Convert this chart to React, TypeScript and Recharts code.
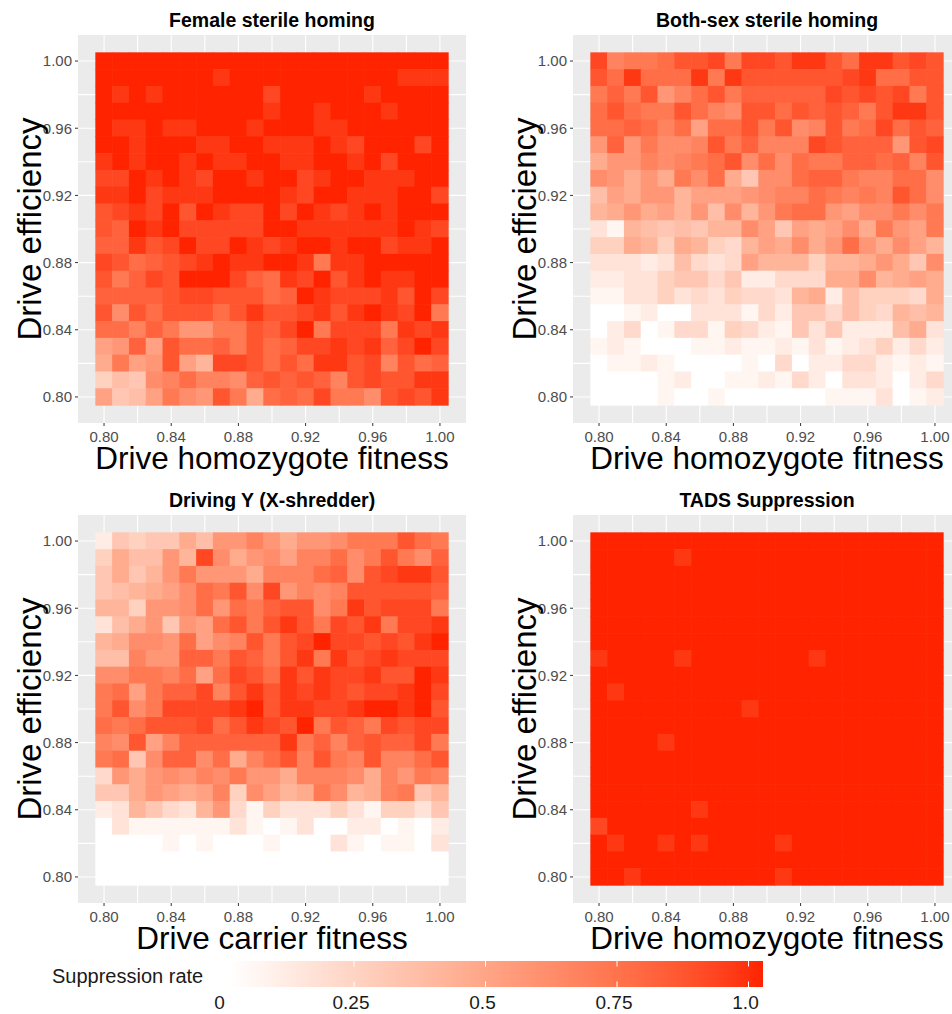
import React from 'react';
import { ScatterChart, Scatter, XAxis, YAxis, CartesianGrid } from 'recharts';

// suppression rate per tile, one char per cell: index in LEVELS / 20
// rows run from drive efficiency 1.00 (top) down to 0.80, columns from fitness 0.80 to 1.00
const LEVELS = '0123456789ABCDEFGHIJK';

const fitnessLevels = [
  0.8, 0.81, 0.82, 0.83, 0.84, 0.85, 0.86, 0.87, 0.88, 0.89, 0.9,
  0.91, 0.92, 0.93, 0.94, 0.95, 0.96, 0.97, 0.98, 0.99, 1.0
];
const efficiencyLevels = [
  1.0, 0.99, 0.98, 0.97, 0.96, 0.95, 0.94, 0.93, 0.92, 0.91, 0.9,
  0.89, 0.88, 0.87, 0.86, 0.85, 0.84, 0.83, 0.82, 0.81, 0.8
];
const axisTicks = [0.8, 0.84, 0.88, 0.92, 0.96, 1.0];
const gridLines = [0.8, 0.82, 0.84, 0.86, 0.88, 0.9, 0.92, 0.94, 0.96, 0.98, 1.0];
const legendTicks = [0, 0.25, 0.5, 0.75, 1.0];
const legendLabels = ['0', '0.25', '0.5', '0.75', '1.0'];

const femaleSterileRows = [
  'KKKKKKKKKKKKKKKKKKKKK',
  'KKKKKKKJKKKKKKKKKKJJJ',
  'KJKJKKKKKKIKKKKKJKKKK',
  'KKKKKKKKKKJKKJKKKJKKK',
  'KJJKJJKKKJKKKJJKKKKKK',
  'KKJKKKJJKKJJJKJIKKKIK',
  'JKJKKJKJJKKJJKKJKIKKK',
  'IIKJKJIKKJKKIJKKJJJKK',
  'JJKIJJJKKKKJIKKJJJKKI',
  'HIJIKHKJIIKIKJIJKJKKK',
  'HGKJKIIIIIKKJJJJJJKJI',
  'GGJHIKIIKJIJKKJKKIJJK',
  'IHFGHIJKJJKKJEJJKKKKK',
  'HEGIHKKKIGFJIKHJKJJKK',
  'GGGGHIIHHHFGKJIIIJHKI',
  'HCHFHHHFHJHHIJHJKJIKE',
  'FFDGEBBEEHGIKEIIIEJIJ',
  'ABGAHFFGEHFGIIJIJGIKI',
  '9EABHA8IIHFHFJJHIDHFG',
  '576CDFDDCGHGHGDHIHHJJ',
  'A67AECBHE9FGFIEECHIHJ'
];

const bothSexRows = [
  'IDEEFHHIEIIHJJHFJJHIH',
  'HFJFFFJEJHHHHHHIJFFHH',
  'EGEHBDFHEGGGGGIHIHIEH',
  'FHFEEHFDCHHFHGHGEHJJH',
  'FFGFDFAFFHEHCDHEFIFHG',
  'BGBECCDHEGDDDIHGGGBHI',
  '9BBDCDEFHCFCFEEGGFGDH',
  'CB9B9ECF96CCFGGEDDFFC',
  '7A9BB8AAABCDDFEDEDHFC',
  '89B9A8B7C8BEFFBACCECE',
  '318767688CA6A9AC9EBAE',
  '5598598548A9C9BFB9CA8',
  '333237434A8885889B96C',
  '2233566462244499C89A9',
  '113353435443892755549',
  '001200333142664754878',
  '024014415421636222793',
  '121000112112131235242',
  '011210000104022442121',
  '000012001121420332024',
  '000010010000001113012'
];

const xShredderRows = [
  '2656697BBDB9BBCEEEHFE',
  '5977B8IC9BCADDFCEHECG',
  '6968BEBBB9DDDFGCHIJJH',
  '6789ACFEHCIBDCDHHHHHG',
  '885BBCFBFEGHHCEJHIIIE',
  '379B6BAFHEHJHEIHJEIIJ',
  '89CCBFACDHEHIKIIHIHJK',
  '77DBBGGEHGEHJEJHIJIII',
  'CCEEDFAFIHFJHJIIJHHKJ',
  'EFAEGGIDHJHJIJIHIIJKI',
  'EHCEIIIIJKHJJIIJKKJKH',
  'FEFHHHIFHJIHKEHGEIHII',
  'DCHADGGGGGGJEGDGHGGIE',
  'EF6CGGCF9DFHDHEDHDDFH',
  '4B9BCBDCEBB9DDDC9DBED',
  '669BA9AD5CA89EC89DE68',
  '2386438B4153335315536',
  '031111113101300220102',
  '000010100010003101103',
  '000000000000000000000',
  '000000000000000000000'
];

const tadsRows = [
  'KKKKKKKKKKKKKKKKKKKKK',
  'KKKKKJKKKKKKKKKKKKKKK',
  'KKKKKKKKKKKKKKKKKKKKK',
  'KKKKKKKKKKKKKKKKKKKKK',
  'KKKKKKKKKKKKKKKKKKKKK',
  'KKKKKKKKKKKKKKKKKKKKK',
  'KKKKKKKKKKKKKKKKKKKKK',
  'JKKKKJKKKKKKKJKKKKKKK',
  'KKKKKKKKKKKKKKKKKKKKK',
  'KJKKKKKKKKKKKKKKKKKKK',
  'KKKKKKKKKJKKKKKKKKKKK',
  'KKKKKKKKKKKKKKKKKKKKK',
  'KKKKJKKKKKKKKKKKKKKKK',
  'KKKKKKKKKKKKKKKKKKKKK',
  'KKKKKKKKKKKKKKKKKKKKK',
  'KKKKKKKKKKKKKKKKKKKKK',
  'KKKKKKJKKKKKKKKKKKKKK',
  'IKKKKKKKKKKKKKKKKKKKK',
  'KJKKJKJKKKKJKKKKKKKKK',
  'KKKKKKKKKKKKKKKKKKKKK',
  'KKJKKKKKKKKJKKKKKKKKK'
];

// white -> red, blended in Lab like ggplot's gradient
const HIGH = [255, 35, 0];
const toLin = (c: number) => {
  const v = c / 255;
  return v <= 0.04045 ? v / 12.92 : Math.pow((v + 0.055) / 1.055, 2.4);
};
const fromLin = (c: number) => {
  const v = c <= 0.0031308 ? 12.92 * c : 1.055 * Math.pow(c, 1 / 2.4) - 0.055;
  return Math.round(Math.max(0, Math.min(1, v)) * 255);
};
const fLab = (t: number) => (t > 0.008856 ? Math.cbrt(t) : 7.787 * t + 16 / 116);
const fInv = (t: number) => (t * t * t > 0.008856 ? t * t * t : (t - 16 / 116) / 7.787);

function rgbToLab([r, g, b]: number[]) {
  const R = toLin(r), G = toLin(g), B = toLin(b);
  const X = (0.4124 * R + 0.3576 * G + 0.1805 * B) / 0.95047;
  const Y = 0.2126 * R + 0.7152 * G + 0.0722 * B;
  const Z = (0.0193 * R + 0.1192 * G + 0.9505 * B) / 1.08883;
  const fx = fLab(X), fy = fLab(Y), fz = fLab(Z);
  return [116 * fy - 16, 500 * (fx - fy), 200 * (fy - fz)];
}

const HIGH_LAB = rgbToLab(HIGH);

function rateColor(v: number) {
  const t = Math.max(0, Math.min(1, v));
  const L = 100 + (HIGH_LAB[0] - 100) * t;
  const a = HIGH_LAB[1] * t;
  const b = HIGH_LAB[2] * t;
  const fy = (L + 16) / 116;
  const X = 0.95047 * fInv(fy + a / 500);
  const Y = fInv(fy);
  const Z = 1.08883 * fInv(fy - b / 200);
  const r = fromLin(3.2406 * X - 1.5372 * Y - 0.4986 * Z);
  const g = fromLin(-0.9689 * X + 1.8758 * Y + 0.0415 * Z);
  const bl = fromLin(0.0557 * X - 0.204 * Y + 1.057 * Z);
  return `rgb(${r},${g},${bl})`;
}

function toCells(rows: string[]) {
  return rows.flatMap((row, r) =>
    fitnessLevels.map((x, c) => {
      const idx = LEVELS.indexOf(row[c] ?? '0');
      return { x, y: efficiencyLevels[r], v: Math.max(0, idx) / 20 };
    })
  );
}

const W = 476;
const H = 490;
const M = { top: 35, right: 10, bottom: 0, left: 0 };
const Y_AXIS_W = 78;
const X_AXIS_H = 67;
const DOMAIN: [number, number] = [0.7845, 1.0155];
const PLOT = W - M.right - Y_AXIS_W; // 388
const CELL = (PLOT / (DOMAIN[1] - DOMAIN[0])) * 0.01;
const FONT = '"Liberation Sans", Arial, Helvetica, sans-serif';

const Tile = (props: any) => {
  const { cx, cy, payload } = props;
  if (cx == null || cy == null) return null;
  return (
    <rect
      x={cx - CELL / 2 - 0.3}
      y={cy - CELL / 2 - 0.3}
      width={CELL + 0.6}
      height={CELL + 0.6}
      fill={rateColor(payload.v)}
    />
  );
};

const tickStyle = { fontSize: 15, fill: '#4D4D4D', fontFamily: FONT };

function HeatPanel({
  title,
  xLabel,
  rows,
  left,
  top
}: {
  title: string;
  xLabel: string;
  rows: string[];
  left: number;
  top: number;
}) {
  const cells = toCells(rows);
  const centerX = Y_AXIS_W + PLOT / 2;
  const centerY = M.top + PLOT / 2;
  return (
    <div style={{ position: 'absolute', left, top, width: W, height: H }}>
      <ScatterChart width={W} height={H} margin={M}>
        <CartesianGrid
          fill="#EBEBEB"
          stroke="#FFFFFF"
          strokeWidth={1.1}
          verticalValues={gridLines}
          horizontalValues={gridLines}
        />
        <XAxis
          type="number"
          dataKey="x"
          domain={DOMAIN}
          allowDataOverflow
          ticks={axisTicks}
          interval={0}
          tickFormatter={(v: number) => v.toFixed(2)}
          height={X_AXIS_H}
          axisLine={false}
          tickSize={3}
          tickMargin={5}
          tickLine={{ stroke: '#333333' }}
          tick={tickStyle}
        />
        <YAxis
          type="number"
          dataKey="y"
          domain={DOMAIN}
          allowDataOverflow
          ticks={axisTicks}
          interval={0}
          tickFormatter={(v: number) => v.toFixed(2)}
          width={Y_AXIS_W}
          axisLine={false}
          tickSize={3}
          tickMargin={3}
          tickLine={{ stroke: '#333333' }}
          tick={tickStyle}
        />
        <Scatter data={cells} shape={Tile} isAnimationActive={false} />
      </ScatterChart>
      <svg
        width={W}
        height={H}
        style={{ position: 'absolute', left: 0, top: 0, pointerEvents: 'none' }}
      >
        <text x={centerX} y={27} textAnchor="middle" fontSize={19.5} fontWeight="bold" fill="#000" fontFamily={FONT}>
          {title}
        </text>
        <text x={centerX} y={469} textAnchor="middle" fontSize={31.5} fill="#000" fontFamily={FONT}>
          {xLabel}
        </text>
        <text
          x={41}
          y={centerY}
          transform={`rotate(-90 41 ${centerY})`}
          textAnchor="middle"
          fontSize={33}
          fill="#000"
          fontFamily={FONT}
        >
          Drive efficiency
        </text>
      </svg>
    </div>
  );
}

function RateLegend() {
  const barX0 = 230;
  const barX1 = 763;
  const barY = 961;
  const barH = 26;
  const zeroX = 222.5;
  const unit = 526;
  const stops = Array.from({ length: 21 }, (_, i) => i / 20);
  return (
    <svg width={952} height={1014} style={{ position: 'absolute', left: 0, top: 0, pointerEvents: 'none' }}>
      <defs>
        <linearGradient id="rateGrad" x1="0" x2="1" y1="0" y2="0">
          {stops.map((s) => (
            <stop key={s} offset={s} stopColor={rateColor(s)} />
          ))}
        </linearGradient>
      </defs>
      <text x={52} y={983} fontSize={20} fill="#1A1A1A" fontFamily={FONT}>
        Suppression rate
      </text>
      <rect x={barX0} y={barY} width={barX1 - barX0} height={barH} fill="url(#rateGrad)" />
      {legendTicks.map((t) => {
        const x = zeroX + unit * t;
        if (x < barX0) return null;
        return (
          <g key={t}>
            <line x1={x} x2={x} y1={barY} y2={barY + 5.5} stroke="#FFFFFF" strokeWidth={1} />
            <line x1={x} x2={x} y1={barY + barH - 5.5} y2={barY + barH} stroke="#FFFFFF" strokeWidth={1} />
          </g>
        );
      })}
      {legendTicks.map((t, i) => (
        <text key={t} x={zeroX - 3 + unit * t} y={1009} textAnchor="middle" fontSize={19} fill="#1A1A1A" fontFamily={FONT}>
          {legendLabels[i]}
        </text>
      ))}
    </svg>
  );
}

export default function App() {
  return (
    <div
      style={{
        position: 'absolute',
        left: 0,
        top: 0,
        width: 952,
        height: 1014,
        overflow: 'hidden',
        background: '#FFFFFF',
        fontFamily: FONT
      }}
    >
      <HeatPanel title="Female sterile homing" xLabel="Drive homozygote fitness" rows={femaleSterileRows} left={0} top={0} />
      <HeatPanel title="Both-sex sterile homing" xLabel="Drive homozygote fitness" rows={bothSexRows} left={495} top={0} />
      <HeatPanel title="Driving Y (X-shredder)" xLabel="Drive carrier fitness" rows={xShredderRows} left={0} top={480} />
      <HeatPanel title="TADS Suppression" xLabel="Drive homozygote fitness" rows={tadsRows} left={495} top={480} />
      <RateLegend />
    </div>
  );
}
